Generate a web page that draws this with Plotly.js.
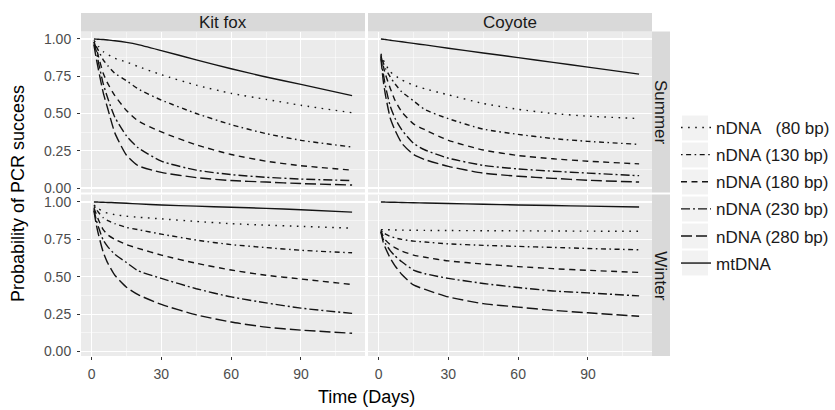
<!DOCTYPE html>
<html>
<head>
<meta charset="utf-8">
<script src="https://cdn.plot.ly/plotly-3.0.1.min.js"></script>
<style>html,body{margin:0;padding:0;background:#fff;}#chart{width:835px;height:410px;}</style>
</head>
<body>
<div id="chart"></div>
<script>
// ---- data ----
const days = [1, 2, 3, 5, 7, 10, 15, 20, 30, 45, 60, 75, 90, 112];
const seriesNames = ['nDNA\u00A0\u00A0\u00A0(80 bp)', 'nDNA (130 bp)', 'nDNA (180 bp)', 'nDNA (230 bp)', 'nDNA (280 bp)', 'mtDNA'];
const speciesLabels = ['Kit fox', 'Coyote'];
const seasonLabels = ['Summer', 'Winter'];

// Kit fox, Summer
const kitSummer80  = [0.99, 0.97, 0.95, 0.915, 0.895, 0.87, 0.845, 0.815, 0.76, 0.69, 0.635, 0.595, 0.555, 0.505];
const kitSummer130 = [0.98, 0.95, 0.92, 0.86, 0.82, 0.77, 0.72, 0.665, 0.59, 0.50, 0.425, 0.365, 0.32, 0.275];
const kitSummer180 = [0.98, 0.94, 0.88, 0.77, 0.70, 0.62, 0.52, 0.45, 0.376, 0.29, 0.225, 0.18, 0.15, 0.12];
const kitSummer230 = [0.97, 0.92, 0.84, 0.70, 0.60, 0.475, 0.35, 0.27, 0.18, 0.12, 0.09, 0.072, 0.06, 0.05];
const kitSummer280 = [0.96, 0.87, 0.79, 0.64, 0.53, 0.37, 0.22, 0.15, 0.105, 0.07, 0.05, 0.04, 0.03, 0.02];
const kitSummerMt  = [1.00, 0.999, 0.998, 0.996, 0.993, 0.988, 0.977, 0.962, 0.922, 0.86, 0.80, 0.745, 0.695, 0.62];

// Coyote, Summer
const coySummer80  = [0.90, 0.86, 0.83, 0.78, 0.755, 0.725, 0.69, 0.665, 0.625, 0.567, 0.528, 0.50, 0.482, 0.466];
const coySummer130 = [0.89, 0.84, 0.80, 0.745, 0.70, 0.645, 0.585, 0.525, 0.465, 0.395, 0.36, 0.332, 0.313, 0.293];
const coySummer180 = [0.89, 0.82, 0.76, 0.67, 0.59, 0.51, 0.43, 0.39, 0.32, 0.255, 0.218, 0.196, 0.18, 0.162];
const coySummer230 = [0.88, 0.77, 0.68, 0.55, 0.47, 0.39, 0.30, 0.255, 0.20, 0.152, 0.128, 0.113, 0.10, 0.083];
const coySummer280 = [0.87, 0.72, 0.62, 0.47, 0.39, 0.30, 0.225, 0.19, 0.145, 0.10, 0.079, 0.065, 0.052, 0.04];
const coySummerMt  = [1.00, 0.998, 0.996, 0.991, 0.987, 0.981, 0.970, 0.960, 0.938, 0.906, 0.875, 0.843, 0.811, 0.764];

// Kit fox, Winter
const kitWinter80  = [0.98, 0.965, 0.955, 0.935, 0.925, 0.915, 0.905, 0.898, 0.887, 0.87, 0.855, 0.845, 0.837, 0.825];
const kitWinter130 = [0.97, 0.95, 0.93, 0.895, 0.875, 0.855, 0.83, 0.815, 0.785, 0.745, 0.715, 0.695, 0.677, 0.66];
const kitWinter180 = [0.96, 0.92, 0.88, 0.815, 0.78, 0.75, 0.715, 0.69, 0.645, 0.59, 0.545, 0.51, 0.485, 0.448];
const kitWinter230 = [0.95, 0.88, 0.83, 0.745, 0.70, 0.65, 0.595, 0.54, 0.489, 0.42, 0.365, 0.325, 0.29, 0.255];
const kitWinter280 = [0.94, 0.85, 0.78, 0.665, 0.59, 0.51, 0.43, 0.38, 0.315, 0.245, 0.197, 0.163, 0.143, 0.122];
const kitWinterMt  = [1.00, 1.00, 0.999, 0.998, 0.997, 0.995, 0.991, 0.987, 0.98, 0.972, 0.965, 0.957, 0.948, 0.932];

// Coyote, Winter
const coyWinter80  = [0.815, 0.815, 0.814, 0.814, 0.813, 0.812, 0.811, 0.81, 0.809, 0.808, 0.807, 0.806, 0.805, 0.804];
const coyWinter130 = [0.81, 0.795, 0.785, 0.77, 0.76, 0.75, 0.738, 0.732, 0.72, 0.71, 0.703, 0.696, 0.689, 0.68];
const coyWinter180 = [0.81, 0.77, 0.745, 0.715, 0.695, 0.672, 0.645, 0.63, 0.606, 0.585, 0.568, 0.554, 0.543, 0.529];
const coyWinter230 = [0.80, 0.75, 0.72, 0.675, 0.64, 0.60, 0.545, 0.52, 0.489, 0.455, 0.428, 0.405, 0.392, 0.372];
const coyWinter280 = [0.80, 0.73, 0.69, 0.625, 0.575, 0.515, 0.445, 0.415, 0.365, 0.32, 0.297, 0.275, 0.259, 0.236];
const coyWinterMt  = [1.00, 1.00, 0.999, 0.998, 0.998, 0.997, 0.995, 0.993, 0.99, 0.985, 0.98, 0.976, 0.972, 0.966];

const xTickVals = [0, 30, 60, 90];
const yTickVals = [0, 0.25, 0.5, 0.75, 1];
const yTickText = ['0.00', '0.25', '0.50', '0.75', '1.00'];

// ---- styling ----
const W = 835, H = 410;
const dashes = ['1.6px,5.5px', '1.6px,3.5px,5px,3.5px', '6px,4.5px', '9px,3px,2px,3px', '11px,4px', 'solid'];
const FONT = 'Liberation Sans, Arial, Helvetica, sans-serif';

const panels = [
  {xa: 'x',  ya: 'y',  data: [kitSummer80, kitSummer130, kitSummer180, kitSummer230, kitSummer280, kitSummerMt]},
  {xa: 'x2', ya: 'y2', data: [coySummer80, coySummer130, coySummer180, coySummer230, coySummer280, coySummerMt]},
  {xa: 'x3', ya: 'y3', data: [kitWinter80, kitWinter130, kitWinter180, kitWinter230, kitWinter280, kitWinterMt]},
  {xa: 'x4', ya: 'y4', data: [coyWinter80, coyWinter130, coyWinter180, coyWinter230, coyWinter280, coyWinterMt]}
];

const traces = [];
panels.forEach((p, pi) => {
  p.data.forEach((vals, si) => {
    traces.push({
      type: 'scatter', mode: 'lines', x: days, y: vals,
      xaxis: p.xa, yaxis: p.ya,
      name: seriesNames[si], legendgroup: 'g' + si, showlegend: pi === 0,
      line: {color: '#141414', width: 1.4, dash: dashes[si], shape: 'spline', smoothing: 0.55},
      hoverinfo: 'skip'
    });
  });
});

// pixel helpers for layout boxes
const px = v => v / W;
const py = v => 1 - v / H;
const colL = [81, 365], colR = [368, 652];
const rowT = [31.5, 192.5], rowB = [194.5, 356];

const xBase = {
  range: [-4.55, 117.55], tickmode: 'array', tickvals: xTickVals, ticktext: xTickVals.map(String),
  showgrid: true, gridcolor: '#FFFFFF', gridwidth: 1.1, zeroline: false, showline: false,
  minor: {tickmode: 'array', tickvals: [15, 45, 75, 105], showgrid: true, gridcolor: '#FFFFFF', gridwidth: 0.5, ticks: ''},
  tickfont: {family: FONT, size: 14, color: '#4D4D4D'}, tickcolor: '#333333', ticklen: 3, tickwidth: 1,
  fixedrange: true
};
const yBase = {
  range: [-0.03, 1.05], tickmode: 'array', tickvals: yTickVals, ticktext: yTickText,
  showgrid: true, gridcolor: '#FFFFFF', gridwidth: 1.1, zeroline: false, showline: false,
  minor: {tickmode: 'array', tickvals: [0.125, 0.375, 0.625, 0.875], showgrid: true, gridcolor: '#FFFFFF', gridwidth: 0.5, ticks: ''},
  tickfont: {family: FONT, size: 14, color: '#4D4D4D'}, tickcolor: '#333333', ticklen: 3, tickwidth: 1,
  fixedrange: true
};
function ax(base, extra) { return Object.assign(JSON.parse(JSON.stringify(base)), extra); }

const shapes = [];
const annotations = [];
// top strips
[colL, colR].forEach((c, i) => {
  shapes.push({type: 'rect', xref: 'paper', yref: 'paper', x0: px(c[0]), x1: px(c[1]), y0: py(31.5), y1: py(13), fillcolor: '#D9D9D9', line: {width: 0}, layer: 'below'});
  annotations.push({xref: 'paper', yref: 'paper', x: px((c[0] + c[1]) / 2), y: py(22.5), text: speciesLabels[i], showarrow: false, xanchor: 'center', yanchor: 'middle', font: {family: FONT, size: 17, color: '#1A1A1A'}});
});
// right strips
[rowT, rowB].forEach((r, i) => {
  shapes.push({type: 'rect', xref: 'paper', yref: 'paper', x0: px(652), x1: px(670), y0: py(r[1]), y1: py(r[0]), fillcolor: '#D9D9D9', line: {width: 0}, layer: 'below'});
  annotations.push({xref: 'paper', yref: 'paper', x: px(661), y: py((r[0] + r[1]) / 2), text: seasonLabels[i], showarrow: false, textangle: 90, xanchor: 'center', yanchor: 'middle', font: {family: FONT, size: 17, color: '#1A1A1A'}});
});
// legend key backgrounds
const legendRows = [128, 155, 182, 209, 236, 263];
legendRows.forEach(c => {
  shapes.push({type: 'rect', xref: 'paper', yref: 'paper', x0: px(682), x1: px(708), y0: py(c + 12.5), y1: py(c - 12.5), fillcolor: '#F2F2F2', line: {width: 0}, layer: 'below'});
});
// axis titles
annotations.push({xref: 'paper', yref: 'paper', x: px(18), y: py(194), text: 'Probability of PCR success', showarrow: false, textangle: -90, xanchor: 'center', yanchor: 'middle', font: {family: FONT, size: 18, color: '#000000'}});
annotations.push({xref: 'paper', yref: 'paper', x: px(366.5), y: py(397), text: 'Time (Days)', showarrow: false, xanchor: 'center', yanchor: 'middle', font: {family: FONT, size: 18, color: '#000000'}});

const layout = {
  width: W, height: H, margin: {l: 0, r: 0, t: 0, b: 0},
  paper_bgcolor: '#FFFFFF', plot_bgcolor: '#EBEBEB',
  font: {family: FONT},
  xaxis:  ax(xBase, {domain: [px(colL[0]), px(colL[1])], anchor: 'y',  showticklabels: false, ticks: ''}),
  xaxis2: ax(xBase, {domain: [px(colR[0]), px(colR[1])], anchor: 'y2', showticklabels: false, ticks: ''}),
  xaxis3: ax(xBase, {domain: [px(colL[0]), px(colL[1])], anchor: 'y3', ticks: 'outside', ticklabelstandoff: 2}),
  xaxis4: ax(xBase, {domain: [px(colR[0]), px(colR[1])], anchor: 'y4', ticks: 'outside', ticklabelstandoff: 2}),
  yaxis:  ax(yBase, {domain: [py(rowT[1]), py(rowT[0])], anchor: 'x',  ticks: 'outside', ticklabelstandoff: 3}),
  yaxis2: ax(yBase, {domain: [py(rowT[1]), py(rowT[0])], anchor: 'x2', showticklabels: false, ticks: ''}),
  yaxis3: ax(yBase, {domain: [py(rowB[1]), py(rowB[0])], anchor: 'x3', ticks: 'outside', ticklabelstandoff: 3}),
  yaxis4: ax(yBase, {domain: [py(rowB[1]), py(rowB[0])], anchor: 'x4', showticklabels: false, ticks: ''}),
  showlegend: true,
  legend: {
    x: px(676), xanchor: 'left', y: py(195.5), yanchor: 'middle',
    bgcolor: 'rgba(0,0,0,0)', borderwidth: 0, tracegroupgap: 2,
    font: {family: FONT, size: 17, color: '#1A1A1A'}, itemwidth: 30
  },
  shapes: shapes,
  annotations: annotations
};

Plotly.newPlot('chart', traces, layout, {staticPlot: true, displayModeBar: false});
</script>
</body>
</html>
